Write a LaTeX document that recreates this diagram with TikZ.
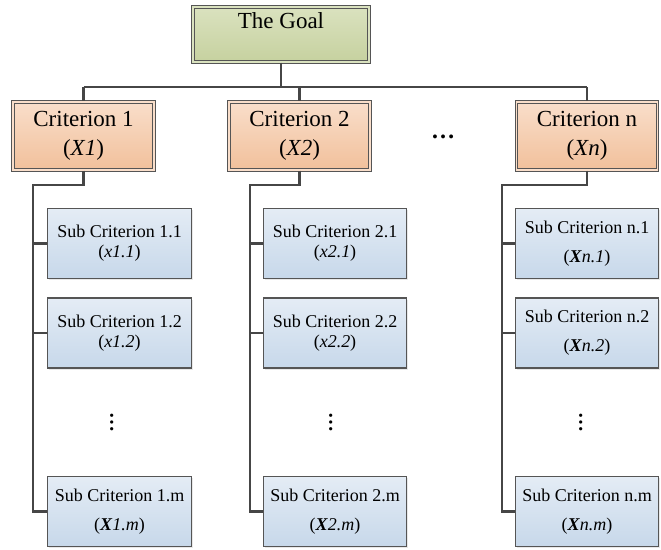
\documentclass[tikz,border=0pt]{standalone}
\usepackage{fontspec}
\setmainfont{Liberation Serif}
\usetikzlibrary{shadows}

\definecolor{goaltop}{HTML}{DAE2BF}
\definecolor{goalbot}{HTML}{C6D19F}
\definecolor{crittop}{HTML}{F9DECA}
\definecolor{critbot}{HTML}{F1C09B}
\definecolor{subtop}{HTML}{E4ECF5}
\definecolor{subbot}{HTML}{C7D8EA}
\definecolor{edge}{HTML}{555555}
\definecolor{wire}{HTML}{464646}

\tikzset{
	box/.style={draw=edge, line width=1.1pt, align=center, inner sep=0pt,
		drop shadow={opacity=0.18, shadow xshift=1.5pt, shadow yshift=-1.5pt}},
	goalbox/.style={box, double=goaltop, double distance=1.6pt, top color=goaltop, bottom color=goalbot,
		minimum width=176pt, inner ysep=1.1pt, text height=20pt, text depth=33pt, font=\fontsize{23}{29}\selectfont},
	critbox/.style={box, double=crittop, double distance=1.6pt, top color=crittop, bottom color=critbot,
		minimum width=141pt, minimum height=68pt, font=\fontsize{23}{29}\selectfont},
	subbox/.style={box, top color=subtop, bottom color=subbot,
		minimum width=143.5pt, minimum height=70pt, font=\fontsize{18}{20}\selectfont},
	subwide/.style={subbox, font=\fontsize{18}{29}\selectfont},
	link/.style={draw=wire, line width=2.2pt},
	hdotsmark/.style={font=\fontsize{24}{24}\selectfont\bfseries, inner sep=0pt},
	vdotsmark/.style={font=\fontsize{20}{20}\selectfont\bfseries, inner sep=0pt, rotate=90}
}

\newcommand{\bx}{\textbf{\textit{X}}}

\begin{document}
\begin{tikzpicture}[x=1pt, y=-1pt]
		%%%%% START %%%%%
		\useasboundingbox[fill=white] (0, 0) rectangle (661, 549);
		
		% goal and criteria
		\node[goalbox] (goal) at (281, 34.5) {The Goal};
		\node[critbox] (crit1) at (83.5, 136) {Criterion 1\\(\textit{X1})};
		\node[critbox] (crit2) at (299.5, 136) {Criterion 2\\(\textit{X2})};
		\node[critbox] (critn) at (587, 136) {Criterion n\\(\textit{Xn})};
		\node[hdotsmark, anchor=base] (hdots) at (443, 138) {…};
		
		\coordinate (hub) at (281, 87);
		\draw[link] (goal.south) -- (hub);
		\draw[link] (crit1.north |- hub) -- (critn.north |- hub);
		\draw[link] (crit1.north |- hub) -- (crit1.north);
		\draw[link] (crit2.north |- hub) -- (crit2.north);
		\draw[link] (critn.north |- hub) -- (critn.north);
		
		% column 1
		\node[subbox] (sub11) at (119.5, 243.5) {Sub Criterion 1.1\\(\textit{x1.1})};
		\node[subbox] (sub12) at (119.5, 333) {Sub Criterion 1.2\\(\textit{x1.2})};
		\node[vdotsmark, anchor=base] (vdots1) at (113, 422.5) {…};
		\node[subwide] (sub1m) at (119.5, 511.5) {Sub Criterion 1.m\\(\bx\textit{1.m})};
		
		\coordinate (bus1) at (33, 185);
		\draw[link] (crit1.south) -- (crit1.south |- bus1) -- (bus1) -- (bus1 |- sub1m.west) -- (sub1m.west);
		\draw[link] (bus1 |- sub11.west) -- (sub11.west);
		\draw[link] (bus1 |- sub12.west) -- (sub12.west);
		
		% column 2
		\node[subbox] (sub21) at (335, 243.5) {Sub Criterion 2.1\\(\textit{x2.1})};
		\node[subbox] (sub22) at (335, 333) {Sub Criterion 2.2\\(\textit{x2.2})};
		\node[vdotsmark, anchor=base] (vdots2) at (332, 422.5) {…};
		\node[subwide] (sub2m) at (335, 511.5) {Sub Criterion 2.m\\(\bx\textit{2.m})};
		
		\coordinate (bus2) at (250, 185);
		\draw[link] (crit2.south) -- (crit2.south |- bus2) -- (bus2) -- (bus2 |- sub2m.west) -- (sub2m.west);
		\draw[link] (bus2 |- sub21.west) -- (sub21.west);
		\draw[link] (bus2 |- sub22.west) -- (sub22.west);
		
		% column n
		\node[subwide] (subn1) at (587, 243.5) {Sub Criterion n.1\\(\bx\textit{n.1})};
		\node[subwide] (subn2) at (587, 333) {Sub Criterion n.2\\(\bx\textit{n.2})};
		\node[vdotsmark, anchor=base] (vdotsn) at (582, 422.5) {…};
		\node[subwide] (subnm) at (587, 511.5) {Sub Criterion n.m\\(\bx\textit{n.m})};
		
		\coordinate (busn) at (502, 185);
		\draw[link] (critn.south) -- (critn.south |- busn) -- (busn) -- (busn |- subnm.west) -- (subnm.west);
		\draw[link] (busn |- subn1.west) -- (subn1.west);
		\draw[link] (busn |- subn2.west) -- (subn2.west);
		%%%%% END %%%%%
	\end{tikzpicture}
\end{document}
